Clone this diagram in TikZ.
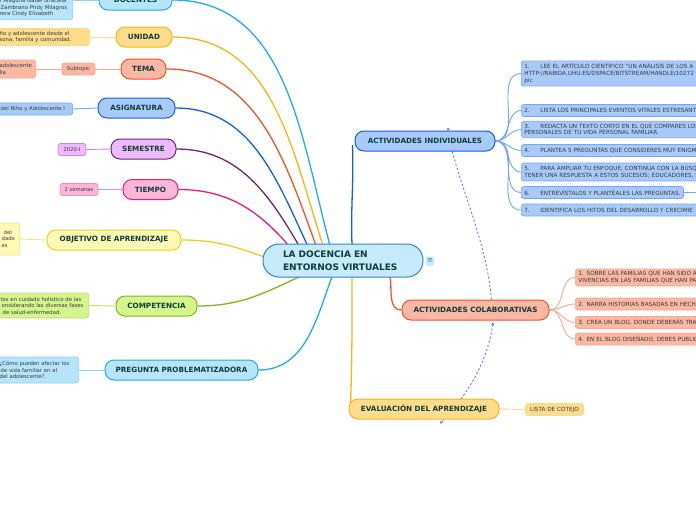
\documentclass[tikz,border=0pt]{standalone}
\usepackage{fontspec}
\setmainfont{DejaVu Sans}
\usetikzlibrary{backgrounds,calc,arrows.meta}
\pgfdeclarelayer{bgfill}
\pgfsetlayers{bgfill,background,main}
\definecolor{txt}{HTML}{0F3D3A}
\definecolor{subtxt}{HTML}{3A3A3A}
\definecolor{cF}{HTML}{C6E9FB}\definecolor{cD}{HTML}{2B86D0}
\definecolor{lbF}{HTML}{B5E4FB}\definecolor{lbD}{HTML}{24A9EC}\definecolor{lbL}{HTML}{8CD3F6}
\definecolor{oF}{HTML}{FEDC8C}\definecolor{oD}{HTML}{F8B51B}\definecolor{oL}{HTML}{FCD98A}
\definecolor{rF}{HTML}{F9B7A4}\definecolor{rD}{HTML}{EE5629}\definecolor{rL}{HTML}{F7A890}
\definecolor{bF}{HTML}{A8CAFB}\definecolor{bD}{HTML}{175FD6}\definecolor{bL}{HTML}{78A6EF}
\definecolor{pF}{HTML}{EDBBFA}\definecolor{pD}{HTML}{6E2778}\definecolor{pL}{HTML}{C58BD3}
\definecolor{kF}{HTML}{FDB5D8}\definecolor{kD}{HTML}{EC1A7C}\definecolor{kL}{HTML}{F68DBF}
\definecolor{yF}{HTML}{FEF9B5}\definecolor{yD}{HTML}{E9D123}\definecolor{yL}{HTML}{F4E37E}
\definecolor{gF}{HTML}{D3F58B}\definecolor{gD}{HTML}{86B41A}\definecolor{gL}{HTML}{BFE066}
\definecolor{relc}{HTML}{5877F2}
\begin{document}
\begin{tikzpicture}[x=1pt,y=-1pt,
  topic/.style={draw, line width=1pt, rounded corners=9pt, minimum height=20pt, inner sep=0pt,
    font=\fontsize{7.2}{8}\selectfont\bfseries, text=txt},
  sub/.style={draw, line width=0.7pt, rounded corners=2.5pt, inner xsep=3pt, inner ysep=2.6pt,
    font=\fontsize{5.3}{6.5}\selectfont, text=subtxt, align=left},
  rsub/.style={sub, anchor=west, text width=280pt, font=\fontsize{5.7}{6.8}\selectfont},
  lsub/.style={sub, anchor=east},
  conn/.style={line width=1.3pt},
  sconn/.style={line width=0.9pt},
  rel/.style={draw=relc, line width=0.8pt, dash pattern=on 2.2pt off 2pt}
]
\begin{pgfonlayer}{bgfill}
\fill[white] (0,0) rectangle (696,520);
\end{pgfonlayer}
\useasboundingbox (0,0) rectangle (696,520);

% central topic
\node[draw=cD, fill=cF, line width=1pt, rounded corners=16pt, minimum width=160pt, minimum height=33pt,
  inner sep=0pt, align=left, text width=120pt, font=\fontsize{9}{12.5}\selectfont\bfseries, text=txt]
  (c) at (343,260.5) {LA DOCENCIA EN\\ENTORNOS VIRTUALES};
\node[fill=cF, rounded corners=1pt, minimum width=8pt, minimum height=9pt, inner sep=0pt,
  font=\fontsize{7}{7}\selectfont, text=cD] (menu) at (430,261) {≡};

% left main topics
\node[topic, fill=lbF, draw=lbD, minimum width=73pt] (doc) at (135.5,0) {DOCENTES};
\node[topic, fill=oF, draw=oD, minimum width=56pt] (uni) at (144,37) {UNIDAD};
\node[topic, fill=rF, draw=rD, minimum width=45pt] (tema) at (143.5,69) {TEMA};
\node[topic, fill=bF, draw=bD, minimum width=77pt] (asig) at (136.5,108) {ASIGNATURA};
\node[topic, fill=pF, draw=pD, minimum width=65pt] (sem) at (143.5,149) {SEMESTRE};
\node[topic, fill=kF, draw=kD, minimum width=55pt] (tiem) at (150.5,189.5) {TIEMPO};
\node[topic, fill=yF, draw=yD, minimum width=134pt] (obj) at (114,240) {OBJETIVO DE APRENDIZAJE};
\node[topic, fill=gF, draw=gD, minimum width=81pt] (comp) at (156.5,306) {COMPETENCIA};
\node[topic, fill=lbF, draw=lbD, minimum width=153pt] (preg) at (181.5,370) {PREGUNTA PROBLEMATIZADORA};

% left subtopics
\node[lsub, fill=lbF, draw=lbL, text width=70pt] (docs) at (73,8) {r Alaguna Isabel Graciela\\\hspace*{1pt}Zambrano Pridy Milagros\\rera Cindy Elizabeth};
\node[lsub, fill=oF, draw=oL, text width=87pt] (unis) at (90,37) {ño y adolescente desde el\\sona, familia y comunidad.};
\node[sub, fill=rF, draw=rL, minimum width=33pt, minimum height=12pt, align=center] (temas) at (78.5,69) {Subtopic};
\node[lsub, fill=rF, draw=rL, text width=33pt, minimum height=18pt] (temass) at (36,69) {adolescente\\lia};
\node[lsub, fill=bF, draw=bL, text width=70pt, minimum height=12pt] (asigs) at (73,109) {\hspace*{1pt}del Niño y Adolescente I};
\node[sub, fill=pF, draw=pL, minimum width=28pt, minimum height=12pt, align=center] (sems) at (72,149.5) {2020-I};
\node[sub, fill=kF, draw=kL, minimum width=38pt, minimum height=12pt, align=center] (tiems) at (79,189.5) {2 semanas};
\node[lsub, fill=yF, draw=yL, text width=17pt, minimum height=32pt] (objs) at (20,239) {\hspace*{4pt}del\\\hspace*{2pt}dado\\\hspace*{2pt}es};
\node[lsub, fill=gF, draw=gL, text width=86pt, minimum height=25pt] (comps) at (89,305.5) {\hspace*{1pt}tos en cuidado holístico de las\\\hspace*{2pt}onsiderando las diversas fases\\\hspace*{3pt}de salud-enfermedad.};
\node[lsub, fill=lbF, draw=lbL, text width=76pt, minimum height=26pt] (pregs) at (79,370) {¿Cómo pueden afectar los\\\hspace*{1pt}de vida familiar en el\\del adolescente?.};

% right main topics
\node[topic, fill=bF, draw=bD, minimum width=140pt] (indiv) at (425,141) {ACTIVIDADES INDIVIDUALES};
\node[topic, fill=rF, draw=rD, minimum width=147pt] (colab) at (475.5,310) {ACTIVIDADES COLABORATIVAS};
\node[topic, fill=oF, draw=oD, minimum width=150pt] (eval) at (424,409) {EVALUACIÓN DEL APRENDIZAJE};

% individual activities
\node[rsub, fill=bF, draw=bL] (i1) at (521,73.5) {\makebox[16pt][l]{1.}LEE EL ARTÍCULO CIENTÍFICO "UN ANÁLISIS DE LOS A\\HTTP://RABIDA.UHU.ES/DSPACE/BITSTREAM/HANDLE/10272\\pic};
\node[rsub, fill=bF, draw=bL, minimum height=12pt] (i2) at (521,110.5) {\makebox[16pt][l]{2.}LISTA LOS PRINCIPALES EVENTOS VITALES ESTRESANT};
\node[rsub, fill=bF, draw=bL] (i3) at (521,129.5) {\makebox[16pt][l]{3.}REDACTA UN TEXTO CORTO EN EL QUE COMPARES LOS\\PERSONALES DE TU VIDA PERSONAL FAMILIAR.};
\node[rsub, fill=bF, draw=bL, minimum height=12pt] (i4) at (521,150.5) {\makebox[16pt][l]{4.}PLANTEA 5 PREGUNTAS QUE CONSIDERES MUY ENIGMA};
\node[rsub, fill=bF, draw=bL] (i5) at (521,172) {\makebox[16pt][l]{5.}PARA AMPLIAR TU ENFOQUE, CONTINÚA CON LA BÚSQU\\TENER UNA RESPUESTA A ESTOS SUCESOS; EDUCADORES, S};
\node[sub, anchor=west, fill=bF, draw=bL, minimum height=12pt, font=\fontsize{5.7}{6.8}\selectfont] (i6) at (521,192.5) {\makebox[16pt][l]{6.}ENTREVÍSTALOS Y PLANTÉALES LAS PREGUNTAS.};
\node[rsub, fill=bF, draw=bL, minimum height=12pt] (i7) at (521,210) {\makebox[16pt][l]{7.}IDENTIFICA LOS HITOS DEL DESARROLLO Y CRECIMIE};
\coordinate (i6x) at (705,192.5);

% collaborative activities
\node[rsub, fill=rF, draw=rL] (k1) at (575,277.5) {1. SOBRE LAS FAMILIAS QUE HAN SIDO A\\VIVENCIAS EN LAS FAMILIAS QUE HAN PA};
\node[rsub, fill=rF, draw=rL, minimum height=12pt] (k2) at (575,304) {2. NARRA HISTORIAS BASADAS EN HECHO};
\node[rsub, fill=rF, draw=rL, minimum height=12pt] (k3) at (575,322.5) {3. CREA UN BLOG, DONDE DEBERÁS TRAS};
\node[rsub, fill=rF, draw=rL, minimum height=12pt] (k4) at (575,339) {4. EN EL BLOG DISEÑADO, DEBES PUBLIC};

% evaluation
\node[sub, fill=oF, draw=oL, minimum height=12pt, minimum width=58pt, align=center, font=\fontsize{5.7}{6.8}\selectfont] (lista) at (554.5,409.5) {LISTA DE COTEJO};

\coordinate (relA) at ($(indiv.north)+(23,-3)$);
\coordinate (relB1) at ($(colab.south)+(17.5,2)$);
\coordinate (relB2) at ($(eval.south)+(16,4)$);

\begin{pgfonlayer}{background}
  % main connectors
  \draw[conn, lbD] (doc.east) to[out=0, in=105] ($(c.north)+(-13,2)$);
  \draw[conn, oD] (uni.east) to[out=0, in=108] ($(c.north)+(-20,2)$);
  \draw[conn, rD] (tema.east) to[out=0, in=110] ($(c.north)+(-27,2)$);
  \draw[conn, bD] (asig.east) to[out=0, in=115] ($(c.north)+(-35,3)$);
  \draw[conn, pD] (sem.east) to[out=0, in=120] ($(c.north)+(-43,4)$);
  \draw[conn, kD] (tiem.east) to[out=0, in=130] ($(c.north)+(-51,6)$);
  \draw[conn, yD] (obj.east) to[out=0, in=160] ($(c.west)+(3,-3)$);
  \draw[conn, gD] (comp.east) to[out=0, in=-155] ($(c.south)+(-43,-1)$);
  \draw[conn, lbD] (preg.east) to[out=0, in=-110] ($(c.south)+(-11,-1)$);
  \draw[conn, bD] ($(c.north)+(9,1)$) to[out=92, in=-88] ($(indiv.west)+(-2,4)$);
  \draw[conn, oD] ($(c.south)+(9,-1)$) to[out=-90, in=88] ($(eval.west)+(2,-4)$);
  \draw[conn, rD] ($(c.south)+(47,-1)$) to[out=-80, in=180] (colab.west);
  % left subtopic connectors
  \draw[sconn, lbL] (doc.west) -- (docs.east |- doc.west);
  \draw[sconn, oL] (uni.west) -- (unis.east);
  \draw[sconn, rL] (tema.west) -- (temas.east);
  \draw[sconn, rL] (temas.west) -- (temass.east);
  \draw[sconn, bL] (asig.west) -- (asigs.east);
  \draw[sconn, pL] (sem.west) -- (sems.east);
  \draw[sconn, kL] (tiem.west) -- (tiems.east);
  \draw[sconn, yL] (obj.west) -- (objs.east);
  \draw[sconn, gL] (comp.west) -- (comps.east);
  \draw[sconn, lbL] (preg.west) -- (pregs.east);
  % right connectors
  \foreach \n in {i1,i2,i3,i4,i5,i6,i7}
    \draw[sconn, bL] (indiv.east) to[out=0, in=180] (\n.west);
  \draw[sconn, bL] (i6.east) -- (i6x);
  \foreach \n in {k1,k2,k3,k4}
    \draw[sconn, rL] (colab.east) to[out=0, in=180] (\n.west);
  \draw[sconn, oL] (eval.east) -- (lista.west);
  % relationships
  \draw[rel, -{Stealth[length=3pt,width=3.5pt]}] ($(colab.north)+(16,0)$) .. controls (486,235) and (452,170) .. (relA);
  \draw[rel, {Stealth[length=3pt,width=3.5pt]}-{Stealth[length=3pt,width=3.5pt]}] (relB1) .. controls (488,360) and (468,395) .. (relB2);
\end{pgfonlayer}
\end{tikzpicture}
\end{document}
